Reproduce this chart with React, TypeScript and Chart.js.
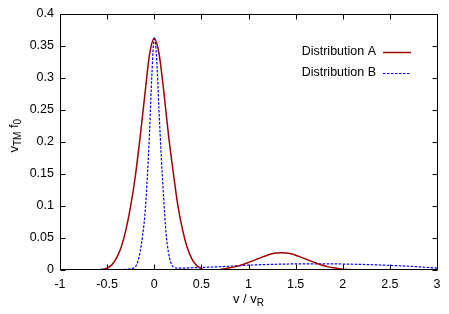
import React, { useEffect, useRef } from "react";
import { Chart, registerables } from "chart.js";

Chart.register(...registerables);

// ---- data ----
const xTicks = [-1, -0.5, 0, 0.5, 1, 1.5, 2, 2.5, 3];
const yTicks = [0, 0.05, 0.1, 0.15, 0.2, 0.25, 0.3, 0.35, 0.4];
const xTickLabels = ["-1", "-0.5", "0", "0.5", "1", "1.5", "2", "2.5", "3"];
const yTickLabels = ["0", "0.05", "0.1", "0.15", "0.2", "0.25", "0.3", "0.35", "0.4"];

const labelA = "Distribution A";
const labelB = "Distribution B";

const xA = [
  -1, -0.9, -0.8, -0.7, -0.6, -0.55, -0.5, -0.45, -0.4, -0.35, -0.3, -0.25, -0.2, -0.15, -0.1, -0.05,
  0, 0.05, 0.1, 0.15, 0.2, 0.25, 0.3, 0.35, 0.4, 0.45, 0.5, 0.55, 0.6, 0.65, 0.7, 0.75, 0.8, 0.85,
  0.9, 0.95, 1.0, 1.05, 1.1, 1.15, 1.2, 1.25, 1.3, 1.35, 1.4, 1.45, 1.5, 1.55, 1.6, 1.65, 1.7, 1.75,
  1.8, 1.85, 1.9, 1.95, 2.0, 2.1, 2.2, 2.3, 2.4, 2.5, 2.6, 2.7, 2.8, 2.9, 3.0,
];
const yA = [
  0, 0, 0, 0, 0, 0.001, 0.003, 0.008, 0.019, 0.036, 0.063, 0.1, 0.147, 0.207, 0.273, 0.336,
  0.361, 0.338, 0.28, 0.212, 0.154, 0.101, 0.063, 0.035, 0.017, 0.007, 0.002, 0, -0.0005, -0.0005, 0.0005, 0.002, 0.0034, 0.0049,
  0.0067, 0.009, 0.0117, 0.0146, 0.0176, 0.0205, 0.0231, 0.0252, 0.0265, 0.027, 0.0265, 0.0252, 0.0231, 0.0205, 0.0176, 0.0146, 0.0117, 0.009,
  0.0067, 0.0049, 0.0034, 0.0022, 0.0012, 0.0003, 0, 0, 0, 0, 0, 0, 0, 0, 0,
];

const xB = [
  -1, -0.8, -0.6, -0.4, -0.3, -0.25, -0.2, -0.175, -0.15, -0.125, -0.1, -0.075, -0.05, -0.025,
  0, 0.025, 0.05, 0.075, 0.1, 0.125, 0.15, 0.175, 0.2, 0.25, 0.3, 0.4, 0.5, 0.75, 1, 1.25, 1.5,
  1.75, 2, 2.25, 2.5, 2.75, 3,
];
const yB = [
  0.0005, 0.0005, 0.0005, 0.0007, 0.001, 0.002, 0.005, 0.013, 0.028, 0.052, 0.085, 0.14, 0.215, 0.305,
  0.363, 0.33, 0.25, 0.175, 0.112, 0.058, 0.028, 0.012, 0.005, 0.003, 0.003, 0.0035, 0.004, 0.0055, 0.0075, 0.0088, 0.0095,
  0.0097, 0.0093, 0.0085, 0.0072, 0.0055, 0.003,
];

const FONT = "'Liberation Sans', Arial, Helvetica, sans-serif";
const colorA = "#a00000";
const colorB = "#0000ff";

const gnuplotPlugin = {
  id: "gnuplotFrame",
  afterDraw(chart: any) {
    const { ctx, chartArea } = chart;
    const xs = chart.scales.x;
    const ys = chart.scales.y;
    const L = Math.round(chartArea.left) + 0.5;
    const R = Math.round(chartArea.right) + 0.5;
    const T = Math.round(chartArea.top) + 0.5;
    const B = Math.round(chartArea.bottom) - 0.5;
    ctx.save();
    // ticks
    ctx.strokeStyle = "#000";
    ctx.lineWidth = 1;
    const tl = 5;
    ctx.beginPath();
    xTicks.forEach((v) => {
      const px = Math.round(xs.getPixelForValue(v)) + 0.5;
      ctx.moveTo(px, B);
      ctx.lineTo(px, B - tl);
      ctx.moveTo(px, T);
      ctx.lineTo(px, T + tl);
    });
    yTicks.forEach((v) => {
      const py = Math.round(ys.getPixelForValue(v)) + 0.5;
      ctx.moveTo(L, py);
      ctx.lineTo(L + tl, py);
      ctx.moveTo(R, py);
      ctx.lineTo(R - tl, py);
    });
    ctx.stroke();
    // frame
    ctx.beginPath();
    ctx.rect(L, T, R - L, B - T);
    ctx.stroke();

    // legend
    ctx.font = `12.5px ${FONT}`;
    ctx.textAlign = "right";
    ctx.textBaseline = "middle";
    ctx.fillStyle = "#000";
    const ds = chart.data.datasets;
    const rows = [52, 72.5];
    ds.forEach((d: any, i: number) => {
      const y = rows[i];
      ctx.fillStyle = "#000";
      ctx.fillText(d.label, 376, y);
      ctx.beginPath();
      ctx.strokeStyle = i === 0 ? colorA : colorB;
      ctx.lineWidth = i === 0 ? 1.5 : 1.2;
      ctx.setLineDash(i === 0 ? [] : [2.5, 1.5]);
      ctx.moveTo(383, Math.round(y) + 0.5);
      ctx.lineTo(411, Math.round(y) + 0.5);
      ctx.stroke();
      ctx.setLineDash([]);
    });

    // x title: v / v_R
    const mainF = `13px ${FONT}`;
    const subF = `10px ${FONT}`;
    ctx.textAlign = "left";
    ctx.textBaseline = "alphabetic";
    ctx.fillStyle = "#000";
    ctx.font = mainF;
    const t1 = "v / v";
    const w1 = ctx.measureText(t1).width;
    ctx.font = subF;
    const w2 = ctx.measureText("R").width;
    const cx = (chartArea.left + chartArea.right) / 2;
    const sx = cx - (w1 + w2) / 2;
    const by = 303;
    ctx.font = mainF;
    ctx.fillText(t1, sx, by);
    ctx.font = subF;
    ctx.fillText("R", sx + w1, by + 3);

    // y title: v_TM f_0 rotated
    const parts = [
      { t: "v", f: mainF, dy: 0 },
      { t: "TM", f: subF, dy: 3 },
      { t: " f", f: mainF, dy: 0 },
      { t: "0", f: subF, dy: 3 },
    ];
    let total = 0;
    parts.forEach((p) => {
      ctx.font = p.f;
      total += ctx.measureText(p.t).width;
    });
    const cy = (chartArea.top + chartArea.bottom) / 2 - 6;
    ctx.translate(18, cy);
    ctx.rotate(-Math.PI / 2);
    let px = -total / 2;
    parts.forEach((p) => {
      ctx.font = p.f;
      ctx.fillText(p.t, px, p.dy);
      px += ctx.measureText(p.t).width;
    });
    ctx.restore();
  },
};

export default function App() {
  const ref = useRef<HTMLCanvasElement | null>(null);
  useEffect(() => {
    if (!ref.current) return;
    const chart = new Chart(ref.current, {
      type: "line",
      data: {
        datasets: [
          {
            label: labelA,
            data: xA.map((x, i) => ({ x, y: yA[i] })),
            borderColor: colorA,
            borderWidth: 1.5,
            pointRadius: 0,
            fill: false,
            cubicInterpolationMode: "monotone",
          },
          {
            label: labelB,
            data: xB.map((x, i) => ({ x, y: yB[i] })),
            borderColor: colorB,
            borderWidth: 1.2,
            borderDash: [2.5, 1.5],
            pointRadius: 0,
            fill: false,
            cubicInterpolationMode: "monotone",
          },
        ],
      },
      options: {
        animation: false,
        responsive: true,
        maintainAspectRatio: false,
        layout: { padding: { left: 0, right: 12, top: 8, bottom: 0 } },
        plugins: { legend: { display: false }, tooltip: { enabled: false } },
        scales: {
          x: {
            type: "linear",
            min: -1,
            max: 3,
            grid: { display: false, drawTicks: false },
            border: { display: false },
            ticks: {
              padding: 7,
              color: "#000",
              font: { family: FONT, size: 12.5 },
              maxRotation: 0,
              autoSkip: false,
              callback: (v: any) => {
                const i = xTicks.findIndex((t) => Math.abs(t - v) < 1e-9);
                return i >= 0 ? xTickLabels[i] : "";
              },
            },
            afterBuildTicks: (s: any) => {
              s.ticks = xTicks.map((v) => ({ value: v }));
            },
            afterFit: (s: any) => {
              s.height = 44;
            },
          },
          y: {
            type: "linear",
            min: 0,
            max: 0.4,
            grid: { display: false, drawTicks: false },
            border: { display: false },
            ticks: {
              padding: 6,
              color: "#000",
              font: { family: FONT, size: 12.5 },
              autoSkip: false,
              callback: (v: any) => {
                const i = yTicks.findIndex((t) => Math.abs(t - v) < 1e-9);
                return i >= 0 ? yTickLabels[i] : "";
              },
            },
            afterBuildTicks: (s: any) => {
              s.ticks = yTicks.map((v) => ({ value: v }));
            },
            afterFit: (s: any) => {
              s.width = 60;
            },
          },
        },
      },
      plugins: [gnuplotPlugin],
    });
    return () => chart.destroy();
  }, []);
  return (
    <div style={{ position: "fixed", left: 0, top: 0, width: 449, height: 314, background: "#fff" }}>
      <canvas ref={ref} />
    </div>
  );
}
